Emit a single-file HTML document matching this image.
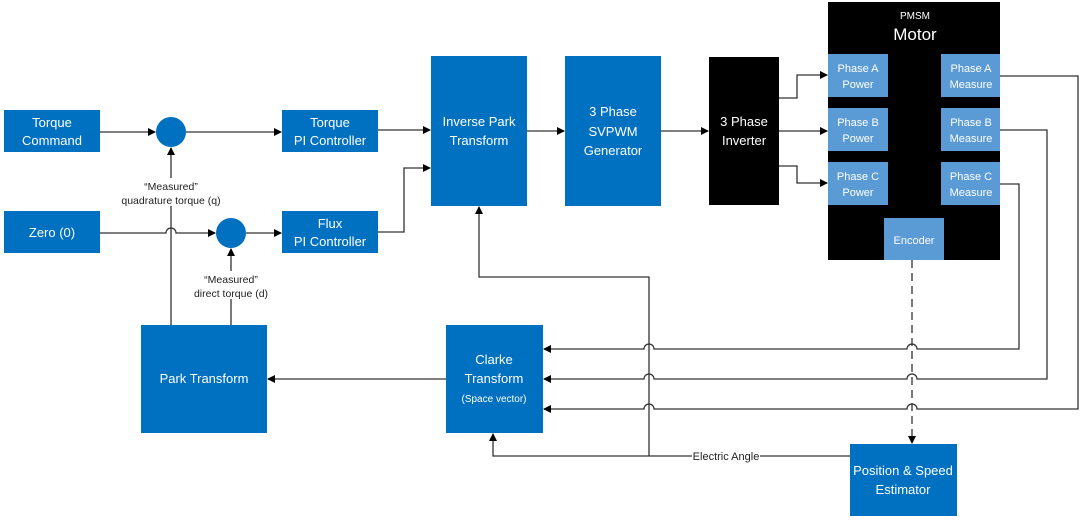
<!DOCTYPE html>
<html><head><meta charset="utf-8"><style>
html,body{margin:0;padding:0;background:#fff}
svg{display:block}
text{font-family:"Liberation Sans",sans-serif;fill:#fff;text-anchor:middle}
.l{fill:#222}
</style></head><body>
<svg width="1080" height="523" viewBox="0 0 1080 523" xmlns="http://www.w3.org/2000/svg">
<defs>
<marker id="a" markerWidth="8" markerHeight="8" refX="7" refY="4" orient="auto" markerUnits="userSpaceOnUse">
<path d="M0,0 L8,4 L0,8 z" fill="#000"/></marker>
</defs>
<g fill="#0070c0">
<rect x="4" y="110" width="96" height="42"/>
<rect x="282" y="110" width="96" height="42"/>
<rect x="4" y="211" width="96" height="42"/>
<rect x="282" y="211" width="96" height="42"/>
<circle cx="171" cy="132" r="15"/>
<circle cx="231" cy="233" r="15"/>
<rect x="431" y="56" width="96" height="150"/>
<rect x="565" y="56" width="96" height="150"/>
<rect x="141" y="325" width="126" height="108"/>
<rect x="446" y="325" width="97" height="108"/>
<rect x="850" y="444" width="107" height="72"/>
</g>
<rect x="709" y="57" width="70" height="148" fill="#000"/>
<rect x="828" y="2" width="172" height="258" fill="#000"/>
<g fill="#5b9bd5">
<rect x="828" y="54" width="60" height="43"/>
<rect x="828" y="108" width="60" height="43"/>
<rect x="828" y="162" width="60" height="43"/>
<rect x="941" y="54" width="59" height="43"/>
<rect x="941" y="108" width="59" height="43"/>
<rect x="941" y="162" width="59" height="43"/>
<rect x="884" y="218" width="60" height="42"/>
</g>
<g stroke="#333" stroke-width="1.3" fill="none">
<path d="M100 132 H155" marker-end="url(#a)"/>
<path d="M186 132 H281" marker-end="url(#a)"/>
<path d="M100 233 H166 a5 5 0 0 1 10 0 H215" marker-end="url(#a)"/>
<path d="M246 233 H281" marker-end="url(#a)"/>
<path d="M171 325 V148" marker-end="url(#a)"/>
<path d="M231 325 V249" marker-end="url(#a)"/>
<path d="M378 130 H430" marker-end="url(#a)"/>
<path d="M378 232 H404 V168 H430" marker-end="url(#a)"/>
<path d="M527 131 H564" marker-end="url(#a)"/>
<path d="M661 131 H708" marker-end="url(#a)"/>
<path d="M779 98 H797 V75 H827" marker-end="url(#a)"/>
<path d="M779 131 H827" marker-end="url(#a)"/>
<path d="M779 166 H797 V183 H827" marker-end="url(#a)"/>
<path d="M1000 76 H1078 V409 H917 a5 5 0 0 0 -10 0 H654 a5 5 0 0 0 -10 0 H544" marker-end="url(#a)"/>
<path d="M1000 130 H1047 V379 H917 a5 5 0 0 0 -10 0 H654 a5 5 0 0 0 -10 0 H544" marker-end="url(#a)"/>
<path d="M1000 184 H1019 V349 H917 a5 5 0 0 0 -10 0 H654 a5 5 0 0 0 -10 0 H544" marker-end="url(#a)"/>
<path d="M446 379 H268" marker-end="url(#a)"/>
<path d="M850 456 H493 V434" marker-end="url(#a)"/>
<path d="M649 456 V277 H479 V207" marker-end="url(#a)"/>
<path d="M912 260 V443" stroke-dasharray="8,5" marker-end="url(#a)"/>
</g>
<rect x="692" y="449" width="68" height="14" fill="#fff"/>
<text class="l" x="726" y="460" font-size="11">Electric Angle</text>
<g font-size="13">
<text x="52" y="127">Torque</text><text x="52" y="145">Command</text>
<text x="330" y="127">Torque</text><text x="330" y="145">PI Controller</text>
<text x="52" y="237">Zero (0)</text>
<text x="330" y="228">Flux</text><text x="330" y="246">PI Controller</text>
<text x="479" y="126">Inverse Park</text><text x="479" y="145">Transform</text>
<text x="613" y="116">3 Phase</text><text x="613" y="136">SVPWM</text><text x="613" y="155">Generator</text>
<text x="744" y="126">3 Phase</text><text x="744" y="145">Inverter</text>
<text x="204" y="383">Park Transform</text>
<text x="494" y="364">Clarke</text><text x="494" y="383">Transform</text>
<text x="903" y="475">Position &amp; Speed</text><text x="903" y="494">Estimator</text>
</g>
<text x="494" y="402" font-size="10">(Space vector)</text>
<text x="915" y="19" font-size="10">PMSM</text>
<text x="915" y="40" font-size="17">Motor</text>
<g font-size="11">
<text x="858" y="72">Phase A</text><text x="858" y="88">Power</text>
<text x="858" y="126">Phase B</text><text x="858" y="142">Power</text>
<text x="858" y="180">Phase C</text><text x="858" y="196">Power</text>
<text x="971" y="72">Phase A</text><text x="971" y="88">Measure</text>
<text x="971" y="126">Phase B</text><text x="971" y="142">Measure</text>
<text x="971" y="180">Phase C</text><text x="971" y="196">Measure</text>
<text x="914" y="244">Encoder</text>
</g>
<g font-size="10.5">
<rect x="118" y="178" width="106" height="28" fill="#fff"/>
<text class="l" x="171" y="190">“Measured”</text><text class="l" x="171" y="204">quadrature torque (q)</text>
<rect x="190" y="271" width="84" height="28" fill="#fff"/>
<text class="l" x="231" y="283">“Measured”</text><text class="l" x="231" y="297">direct torque (d)</text>
</g>
</svg>
</body></html>
